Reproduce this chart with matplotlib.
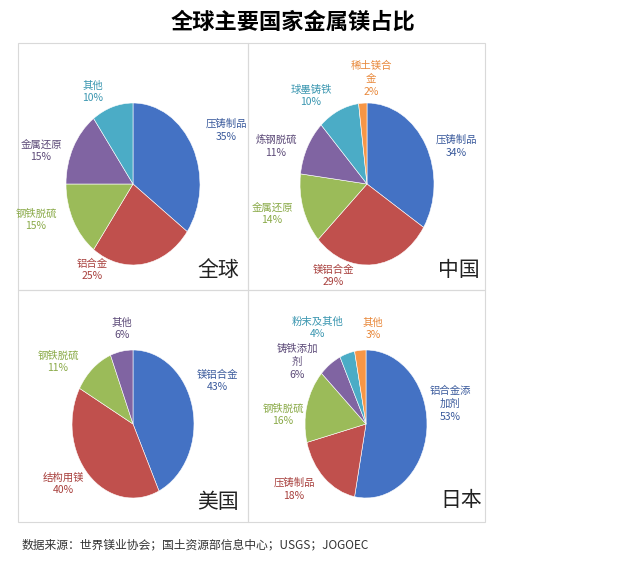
import matplotlib
matplotlib.use("Agg")
import matplotlib.pyplot as plt
from matplotlib.patches import Rectangle

plt.rcParams["font.family"] = "Noto Sans CJK SC"

world_labels = ["压铸制品", "铝合金", "钢铁脱硫", "金属还原", "其他"]
world_values = [35, 25, 15, 15, 10]
china_labels = ["压铸制品", "镁铝合金", "金属还原", "炼钢脱硫", "球墨铸铁", "稀土镁合\n金"]
china_values = [34, 29, 14, 11, 10, 2]
us_labels = ["镁铝合金", "结构用镁", "钢铁脱硫", "其他"]
us_values = [43, 40, 11, 6]
japan_labels = ["铝合金添\n加剂", "压铸制品", "钢铁脱硫", "铸铁添加\n剂", "粉末及其他", "其他"]
japan_values = [53, 18, 16, 6, 4, 3]

BLUE, RED, GREEN, PURPLE, CYAN, ORANGE = "#4472C4", "#C0504D", "#9BBB59", "#8064A2", "#4BACC6", "#F79646"
DARK = {BLUE: "#3A5A9C", RED: "#A8403D", GREEN: "#8AAA48", PURPLE: "#5C4A78", CYAN: "#3A96B0", ORANGE: "#E8883A"}

W, H = 628, 563
fig = plt.figure(figsize=(W / 100, H / 100), dpi=100)
bg = fig.add_axes([0, 0, 1, 1])
bg.set_xlim(0, W); bg.set_ylim(H, 0); bg.axis("off")

for x0, y0, x1, y1 in [(18, 43, 248, 290), (248, 43, 485, 290), (18, 290, 248, 522), (248, 290, 485, 522)]:
    bg.add_patch(Rectangle((x0, y0), x1 - x0, y1 - y0, fill=False, ec="#D9D9D9", lw=0.8))

bg.text(293, 22, "全球主要国家金属镁占比", ha="center", va="center", fontsize=16, fontweight="bold")
bg.text(22, 545, "数据来源：世界镁业协会；国土资源部信息中心；USGS；JOGOEC", ha="left", va="center", fontsize=8.5, color="#333333")

panels = [
    (world_labels, world_values, [BLUE, RED, GREEN, PURPLE, CYAN], (133, 184, 67, 81), "全球", (218, 270),
     [(226, 130), (92, 270), (36, 220), (41, 151), (93, 92)]),
    (china_labels, china_values, [BLUE, RED, GREEN, PURPLE, CYAN, ORANGE], (367, 184, 67, 81), "中国", (459, 270),
     [(456, 146), (333, 276), (272, 214), (276, 146), (311, 96), (371, 79)]),
    (us_labels, us_values, [BLUE, RED, GREEN, PURPLE], (133, 424, 61, 74), "美国", (218, 502),
     [(217, 381), (63, 484), (58, 362), (122, 329)]),
    (japan_labels, japan_values, [BLUE, RED, GREEN, PURPLE, CYAN, ORANGE], (366, 424, 61, 74), "日本", (461, 500),
     [(450, 404), (294, 489), (283, 415), (297, 362), (318, 328), (373, 329)]),
]

for labels, values, colors, (cx, cy, rx, ry), name, npos, lpos in panels:
    ax = fig.add_axes([(cx - rx) / W, 1 - (cy + ry) / H, 2 * rx / W, 2 * ry / H])
    ax.pie(values, colors=colors, startangle=90, counterclock=False, radius=1,
           wedgeprops=dict(edgecolor="white", linewidth=0.4))
    ax.set_aspect("auto")
    ax.set_xlim(-1, 1); ax.set_ylim(-1, 1); ax.axis("off")
    for lab, v, c, (lx, ly) in zip(labels, values, colors, lpos):
        bg.text(lx, ly, f"{lab}\n{v}%", ha="center", va="center", fontsize=7.5,
                color=DARK[c], linespacing=1.35, fontweight="medium")
    bg.text(npos[0], npos[1], name, ha="center", va="center", fontsize=15, color="#222222")

fig.savefig("out.png", dpi=100)
